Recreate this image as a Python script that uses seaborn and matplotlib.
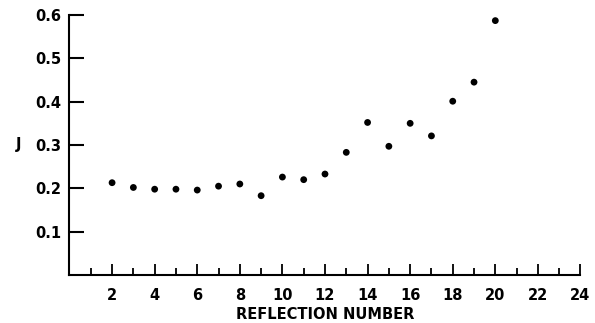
import matplotlib
matplotlib.use("Agg")
import matplotlib.pyplot as plt
import seaborn as sns
import pandas as pd
from matplotlib.ticker import MultipleLocator

# Reflection number and the measured J for each reflection
reflection = [2, 3, 4, 5, 6, 7, 8, 9, 10, 11, 12, 13, 14, 15, 16, 17, 18, 19, 20]
j_values = [0.213, 0.202, 0.198, 0.198, 0.196, 0.205, 0.210, 0.183, 0.226, 0.220,
            0.233, 0.283, 0.352, 0.297, 0.350, 0.321, 0.401, 0.445, 0.587]

x_ticks = [2, 4, 6, 8, 10, 12, 14, 16, 18, 20, 22, 24]
x_tick_labels = ["2", "4", "6", "8", "10", "12", "14", "16", "18", "20", "22", "24"]
y_ticks = [0.1, 0.2, 0.3, 0.4, 0.5, 0.6]
y_tick_labels = ["0.1", "0.2", "0.3", "0.4", "0.5", "0.6"]

df = pd.DataFrame({"reflection": reflection, "J": j_values})

sns.set_theme(style="ticks", rc={"text.color": "black", "axes.labelcolor": "black",
                                 "xtick.color": "black", "ytick.color": "black"})
plt.rcParams["font.family"] = ["DejaVu Sans"]

fig = plt.figure(figsize=(5.95, 3.23), dpi=100)
ax = fig.add_axes([0.1168, 0.1486, 0.8588, 0.805])

sns.scatterplot(data=df, x="reflection", y="J", ax=ax, color="black",
                s=24, edgecolor="none", legend=False)

ax.set_xlim(0, 24)
ax.set_ylim(0, 0.6)

sns.despine(ax=ax)
for side in ("left", "bottom"):
    ax.spines[side].set_linewidth(1.5)
    ax.spines[side].set_color("black")
ax.spines["left"].set_bounds(0, 0.6)
ax.spines["bottom"].set_bounds(0, 24)

ax.set_xticks(x_ticks)
ax.set_xticklabels(x_tick_labels, fontsize=10.5, fontweight="bold")
ax.xaxis.set_minor_locator(MultipleLocator(1))
ax.set_yticks(y_ticks)
ax.set_yticklabels(y_tick_labels, fontsize=10.5, fontweight="bold")

ax.tick_params(axis="x", which="major", direction="in", length=8, width=1.3,
               color="black", labelcolor="black", pad=9)
ax.tick_params(axis="x", which="minor", direction="in", length=5, width=1.3,
               color="black")
ax.tick_params(axis="y", which="major", direction="in", length=11, width=1.5,
               color="black", labelcolor="black", pad=6)

ax.set_xlabel("REFLECTION NUMBER", fontsize=10.5, fontweight="bold", labelpad=3,
              color="black")
ax.set_ylabel("J", fontsize=10.5, fontweight="bold", rotation=0,
              va="center", ha="center", color="black")
ax.yaxis.set_label_coords(-0.1, 0.5)

ax.grid(False)
fig.savefig("out.png", dpi=100, facecolor="white")
